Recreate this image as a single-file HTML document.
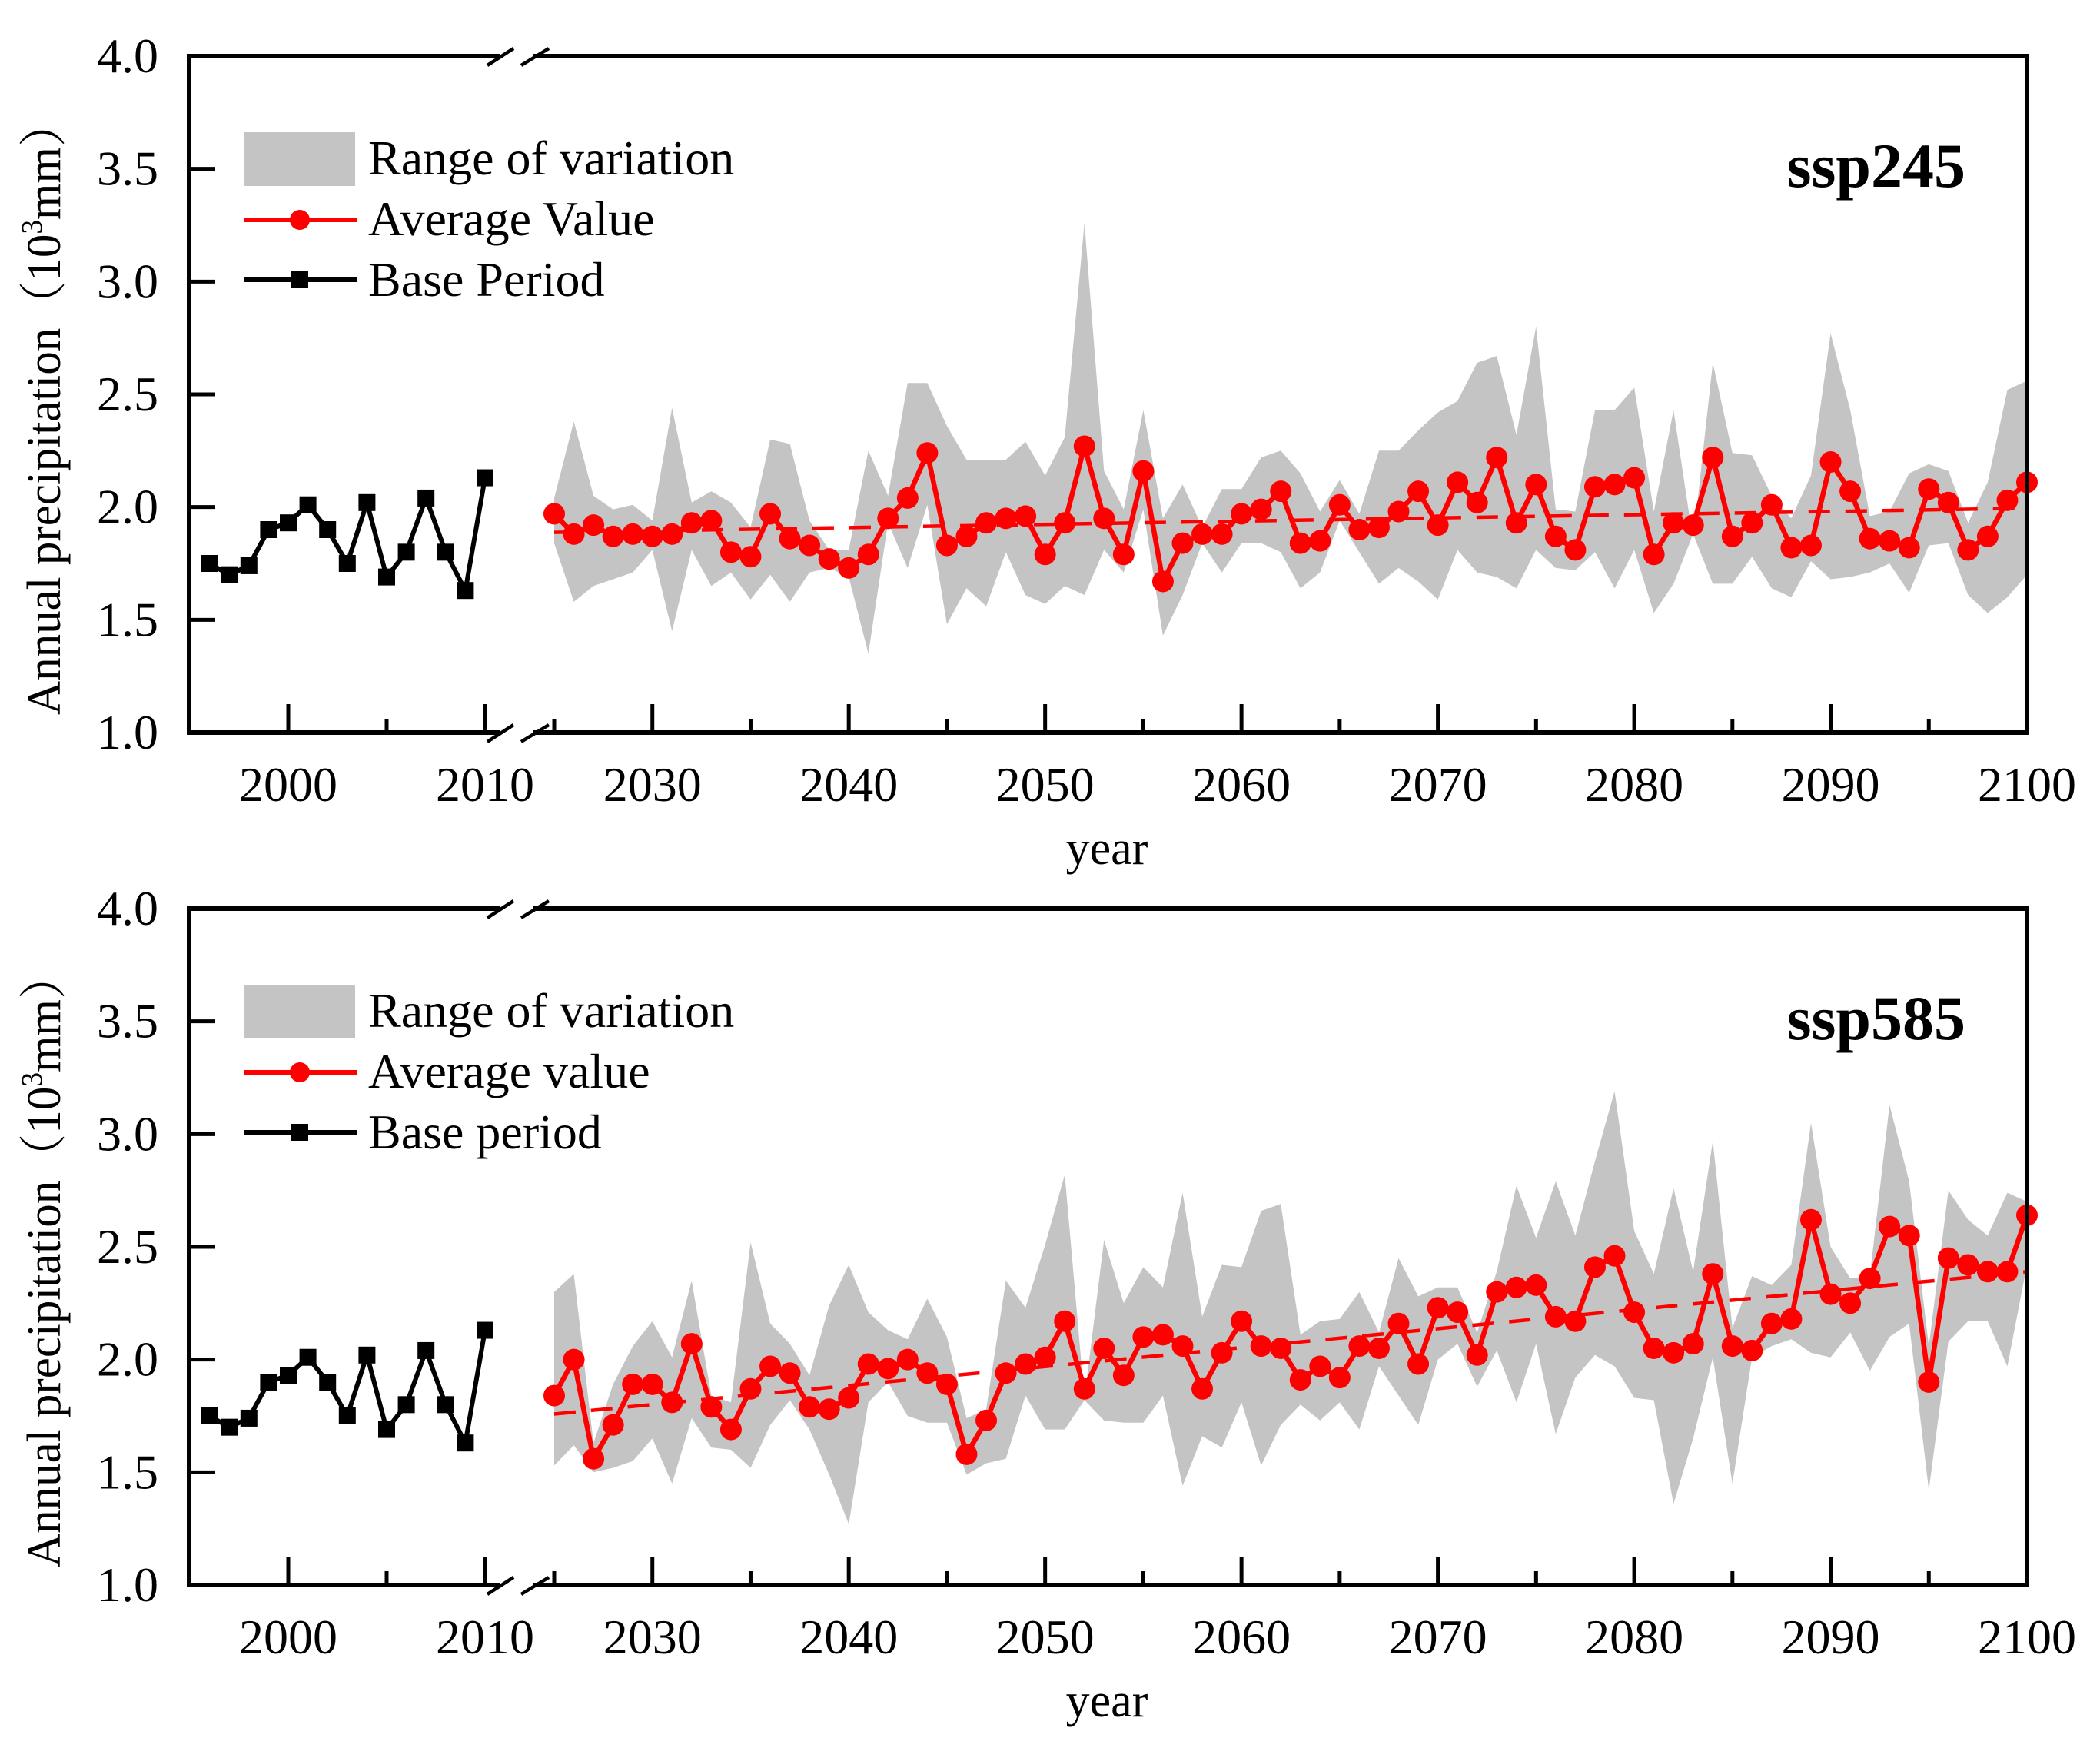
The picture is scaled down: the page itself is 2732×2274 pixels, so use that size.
<!DOCTYPE html>
<html><head><meta charset="utf-8"><style>
html,body{margin:0;padding:0;background:#fff;}
svg{display:block;}
text{font-family:"Liberation Serif","Noto Serif CJK SC",serif;fill:#000;}
</style></head><body>
<svg id="chart" xmlns="http://www.w3.org/2000/svg" width="2732" height="2274" viewBox="0 0 2732 2274"></svg>
<script>
const baseYears = [1996,1997,1998,1999,2000,2001,2002,2003,2004,2005,2006,2007,2008,2009,2010];
const baseValues = [1.75,1.70,1.74,1.90,1.93,2.01,1.90,1.75,2.02,1.69,1.80,2.04,1.80,1.63,2.13];
const futureStart = 2025;
const ssp245Mean = [1.97,1.88,1.92,1.87,1.88,1.87,1.88,1.93,1.94,1.80,1.78,1.97,1.86,1.83,1.77,1.73,1.79,1.95,2.04,2.24,1.83,1.87,1.93,1.95,1.96,1.79,1.93,
2.27,1.95,1.79,2.16,1.67,1.84,1.88,1.88,1.97,1.99,2.07,1.84,1.85,2.01,1.90,1.91,1.98,2.07,1.92,2.11,2.02,2.22,1.93,2.10,1.87,1.81,2.09,
2.10,2.13,1.79,1.93,1.92,2.22,1.87,1.93,2.01,1.82,1.83,2.20,2.07,1.86,1.85,1.82,2.08,2.02,1.81,1.87,2.03,2.11];
const ssp245Upper = [2.04,2.38,2.05,1.99,2.01,1.94,2.44,2.02,2.07,2.02,1.91,2.30,2.28,1.94,1.81,1.81,2.25,2.05,2.55,2.55,2.36,2.21,2.21,2.21,2.29,2.14,2.31,
3.26,2.16,1.99,2.43,1.95,2.10,1.91,2.08,2.08,2.22,2.25,2.15,1.98,2.12,1.97,2.25,2.25,2.34,2.42,2.47,2.64,2.67,2.32,2.80,1.99,1.98,2.43,
2.43,2.53,1.98,2.43,1.85,2.64,2.24,2.23,2.05,1.95,2.14,2.77,2.43,1.96,1.98,2.15,2.19,2.16,1.93,2.11,2.52,2.56];
const ssp245Lower = [1.84,1.58,1.65,1.68,1.71,1.81,1.45,1.81,1.65,1.71,1.59,1.70,1.58,1.71,1.73,1.69,1.35,1.93,1.73,2.01,1.48,1.64,1.56,1.80,1.61,1.57,1.65,
1.61,1.81,1.71,1.99,1.43,1.61,1.84,1.71,1.84,1.84,1.80,1.64,1.71,1.94,1.80,1.66,1.73,1.67,1.59,1.81,1.71,1.69,1.64,1.81,1.73,1.72,1.80,
1.64,1.81,1.53,1.66,1.88,1.66,1.66,1.78,1.64,1.60,1.76,1.68,1.69,1.71,1.75,1.62,1.83,1.84,1.61,1.53,1.60,1.70];
const ssp585Mean = [1.84,2.00,1.56,1.71,1.89,1.89,1.81,2.07,1.79,1.69,1.87,1.97,1.94,1.79,1.78,1.83,1.98,1.96,2.00,1.94,1.89,1.58,1.73,1.94,1.98,2.01,2.17,
1.87,2.05,1.93,2.10,2.11,2.06,1.87,2.03,2.17,2.06,2.05,1.91,1.97,1.92,2.06,2.05,2.16,1.98,2.23,2.21,2.02,2.30,2.32,2.33,2.19,2.17,2.41,
2.46,2.21,2.05,2.03,2.07,2.38,2.06,2.04,2.16,2.18,2.62,2.29,2.25,2.36,2.59,2.55,1.90,2.45,2.42,2.39,2.39,2.64];
const ssp585Upper = [2.30,2.38,1.63,1.89,2.06,2.17,2.01,2.35,1.84,1.81,2.52,2.16,2.07,1.93,2.24,2.42,2.21,2.13,2.09,2.27,2.10,1.74,1.78,2.35,2.23,2.51,2.82,
1.83,2.53,2.25,2.41,2.32,2.74,2.19,2.42,2.41,2.66,2.69,2.11,2.17,2.18,2.30,2.12,2.45,2.28,2.32,2.32,2.12,2.39,2.77,2.54,2.79,2.55,2.88,
3.19,2.57,2.38,2.76,2.39,2.97,2.14,2.37,2.33,2.42,3.05,2.50,2.36,2.37,3.13,2.79,2.06,2.75,2.62,2.55,2.74,2.70];
const ssp585Lower = [1.53,1.62,1.50,1.52,1.55,1.65,1.45,1.74,1.61,1.60,1.52,1.71,1.82,1.69,1.49,1.27,1.81,1.90,1.75,1.72,1.72,1.49,1.54,1.56,1.84,1.69,1.69,
1.82,1.73,1.72,1.72,1.84,1.44,1.66,1.61,1.81,1.53,1.71,1.80,1.73,1.81,1.69,1.97,1.84,1.71,2.00,2.07,1.88,2.04,1.81,2.07,1.67,1.92,2.02,
1.97,1.83,1.82,1.36,1.65,2.01,1.45,2.01,2.06,2.09,2.03,2.01,2.12,1.95,2.10,2.16,1.42,2.08,2.17,2.17,1.97,2.42];
const yTicks = [1.0,1.5,2.0,2.5,3.0,3.5,4.0];
const leftTickLabels = [2000,2010];
const rightTickLabels = [2030,2040,2050,2060,2070,2080,2090,2100];

const NS = "http://www.w3.org/2000/svg";
const svg = document.getElementById('chart');
function el(tag, attrs, parent){const e=document.createElementNS(NS,tag);for(const k in attrs)e.setAttribute(k,attrs[k]);(parent||svg).appendChild(e);return e;}

const X0=246, X1=2637;
function xLeft(yr){return 375+(yr-2000)*25.6;}
function xRight(yr){return 721+(yr-2025)*(X1-721)/75;}

function panel(offY, mean, upper, lower, title, legendLabels, pname){
  const g = el('g',{});
  
  
  const yTop=73+offY, yBot=953+offY;
  const yS = v => yBot - (v-1)*(yBot-yTop)/3;
  const yrs = mean.map((_,i)=>futureStart+i);
  let d = yrs.map((y,i)=>(i?'L':'M')+xRight(y).toFixed(1)+','+yS(upper[i]).toFixed(1)).join(' ');
  for(let i=yrs.length-1;i>=0;i--) d+=' L'+xRight(yrs[i]).toFixed(1)+','+yS(lower[i]).toFixed(1);
  const band = el('path',{d:d+' Z',fill:'#c4c4c4'},g);
  
  
  const n=mean.length; let sx=0,sy=0,sxx=0,sxy=0;
  yrs.forEach((y,i)=>{sx+=y;sy+=mean[i];sxx+=y*y;sxy+=y*mean[i];});
  const b=(n*sxy-sx*sy)/(n*sxx-sx*sx), a=(sy-b*sx)/n;
  const tr = el('line',{x1:xRight(yrs[0]),y1:yS(a+b*yrs[0]),x2:xRight(yrs[n-1]),y2:yS(a+b*yrs[n-1]),stroke:'#ff0000','stroke-width':4.5,'stroke-dasharray':'28,20'},g);
  
  
  const ml = el('polyline',{points:yrs.map((y,i)=>xRight(y).toFixed(1)+','+yS(mean[i]).toFixed(1)).join(' '),fill:'none',stroke:'#ff0000','stroke-width':6.5,'stroke-linejoin':'round'},g);
  
  
  yrs.forEach((y,i)=>{
    const c = el('circle',{cx:xRight(y),cy:yS(mean[i]),r:14,fill:'#ff0000'},g);
    
    
  });
  const bl = el('polyline',{points:baseYears.map((y,i)=>xLeft(y).toFixed(1)+','+yS(baseValues[i]).toFixed(1)).join(' '),fill:'none',stroke:'#000','stroke-width':6},g);
  
  
  baseYears.forEach((y,i)=>{
    const s = el('rect',{x:xLeft(y)-11,y:yS(baseValues[i])-11,width:22,height:22,fill:'#000'},g);
    
    
  });
  const fw=6;
  const gapL=650, gapR=694;
  [yTop,yBot].forEach(yy=>{
    el('line',{x1:X0,y1:yy,x2:gapL,y2:yy,stroke:'#000','stroke-width':fw},g);
    el('line',{x1:gapR,y1:yy,x2:X1+3,y2:yy,stroke:'#000','stroke-width':fw},g);
    el('line',{x1:634,y1:yy+12,x2:668,y2:yy-10,stroke:'#000','stroke-width':4.5},g);
    el('line',{x1:678,y1:yy+12,x2:714,y2:yy-10,stroke:'#000','stroke-width':4.5},g);
  });
  el('line',{x1:X0,y1:yTop-3,x2:X0,y2:yBot+3,stroke:'#000','stroke-width':fw},g);
  el('line',{x1:X1,y1:yTop-3,x2:X1,y2:yBot+3,stroke:'#000','stroke-width':fw},g);
  yTicks.forEach(v=>{
    el('line',{x1:X0,y1:yS(v),x2:X0+34,y2:yS(v),stroke:'#000','stroke-width':5},g);
    const t=el('text',{x:206,y:yS(v)+21,'text-anchor':'end','font-size':64},g);
    t.textContent=v.toFixed(1);
    
    
  });
  [2000,2005,2010].forEach(y=>{
    const major=y%10===0;
    el('line',{x1:xLeft(y),y1:yBot,x2:xLeft(y),y2:yBot-(major?37:18),stroke:'#000','stroke-width':5},g);
  });
  for(let y=2025;y<=2100;y+=5){
    const major=y%10===0;
    el('line',{x1:xRight(y),y1:yBot,x2:xRight(y),y2:yBot-(major?37:18),stroke:'#000','stroke-width':5},g);
  }
  leftTickLabels.forEach(y=>{
    const t=el('text',{x:xLeft(y),y:yBot+89,'text-anchor':'middle','font-size':64},g);
    t.textContent=y;
    
    
  });
  rightTickLabels.forEach(y=>{
    const t=el('text',{x:xRight(y),y:yBot+89,'text-anchor':'middle','font-size':64},g);
    t.textContent=y;
    
    
  });
  const xt=el('text',{x:1440,y:yBot+171,'text-anchor':'middle','font-size':62},g);
  xt.textContent='year';
  
  
  const yt=el('text',{x:0,y:0,'text-anchor':'middle','font-size':62,transform:`translate(78,${530+offY}) rotate(-90)`,textLength:800,lengthAdjust:'spacingAndGlyphs'},g);
  yt.innerHTML='Annual precipitation（10<tspan font-size="38" dy="-24">3</tspan><tspan dy="24">mm）</tspan>';
  
  
  const tt=el('text',{x:2557,y:243+offY,'text-anchor':'end','font-size':82,'font-weight':'bold'},g);
  tt.textContent=title;
  
  
  const lg=el('g',{},g);
  
  
  el('rect',{x:318,y:172+offY,width:144,height:70,fill:'#c4c4c4'},lg);
  el('line',{x1:318,y1:286+offY,x2:465,y2:286+offY,stroke:'#ff0000','stroke-width':6},lg);
  el('circle',{cx:390,cy:286+offY,r:13,fill:'#ff0000'},lg);
  el('line',{x1:318,y1:364+offY,x2:465,y2:364+offY,stroke:'#000','stroke-width':6},lg);
  el('rect',{x:379,y:353+offY,width:22,height:22,fill:'#000'},lg);
  [227,306,385].forEach((by,i)=>{
    const t=el('text',{x:479,y:by+offY,'font-size':64},lg);
    t.textContent=legendLabels[i];
    
    
  });
}
panel(0, ssp245Mean, ssp245Upper, ssp245Lower, 'ssp245', ['Range of variation','Average Value','Base Period'], 'panel-ssp245');
panel(1109, ssp585Mean, ssp585Upper, ssp585Lower, 'ssp585', ['Range of variation','Average value','Base period'], 'panel-ssp585');
</script>
</body></html>
